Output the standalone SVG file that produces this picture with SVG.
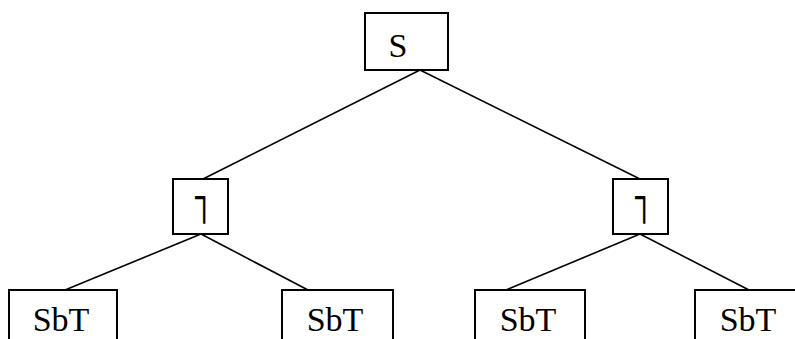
<svg xmlns="http://www.w3.org/2000/svg" width="795" height="339" viewBox="0 0 795 339">
<style>
.box{fill:#fff;stroke:#000;stroke-width:2}
.lbl{font-family:"Liberation Serif","Times New Roman",serif;font-size:34px;fill:#000;text-anchor:middle}
.sym{font-family:"DejaVu Serif","DejaVu Sans",serif;font-size:38px;fill:#000;text-anchor:middle}
.edge{stroke:#000;stroke-width:1.6;fill:none}
</style>
<rect width="795" height="339" fill="#fff"/>
<g id="connectors">
<line class="edge" x1="420" y1="70" x2="203" y2="179"/>
<line class="edge" x1="420" y1="70" x2="640" y2="179"/>
<line class="edge" x1="201" y1="234" x2="65" y2="290"/>
<line class="edge" x1="201" y1="234" x2="308" y2="290"/>
<line class="edge" x1="640" y1="234" x2="506" y2="290"/>
<line class="edge" x1="640" y1="234" x2="749" y2="290"/>
</g>
<g id="node-S">
<rect class="box" x="365" y="13" width="83" height="57"/>
<text class="lbl" x="398" y="57" font-size="33">S</text>
</g>
<g id="node-L1">
<rect class="box" x="173" y="179" width="55" height="55"/>
<text class="sym" transform="translate(201 224) scale(0.6 1)">⅂</text>
</g>
<g id="node-L2">
<rect class="box" x="613" y="179" width="55" height="55"/>
<text class="sym" transform="translate(641 224) scale(0.6 1)">⅂</text>
</g>
<g id="node-SbT1">
<rect class="box" x="9" y="290" width="108" height="60"/>
<text class="lbl" x="61" y="331">SbT</text>
</g>
<g id="node-SbT2">
<rect class="box" x="282" y="290" width="111" height="60"/>
<text class="lbl" x="335" y="331">SbT</text>
</g>
<g id="node-SbT3">
<rect class="box" x="475" y="290" width="110" height="60"/>
<text class="lbl" x="528" y="331">SbT</text>
</g>
<g id="node-SbT4">
<rect class="box" x="695" y="290" width="110" height="60"/>
<text class="lbl" x="748" y="331">SbT</text>
</g>
</svg>
